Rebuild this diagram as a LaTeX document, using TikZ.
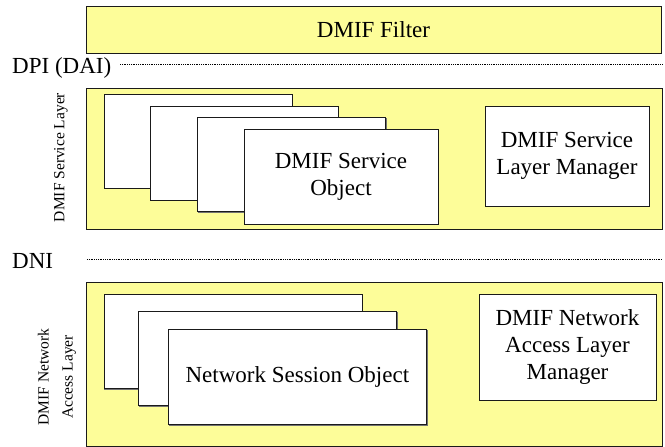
\documentclass[tikz,border=0pt]{standalone}
\usepackage{fontspec}
\setmainfont{Liberation Serif}
\definecolor{layerfill}{HTML}{FDFD99}
\definecolor{edge}{HTML}{1A1A1A}
\tikzset{
  bigtext/.style={font=\fontsize{23}{26.6}\selectfont},
  smalltext/.style={font=\fontsize{15.5}{24}\selectfont},
  framebox/.style={draw=edge, line width=0.9pt, inner sep=0pt, rectangle,
    preaction={draw=black!55, line width=0.9pt,
      transform canvas={shift={(0.9pt,-0.9pt)}}}},
  layerbox/.style={framebox, fill=layerfill},
  objbox/.style={framebox, fill=white, align=center, bigtext},
  sepline/.style={draw=black, line width=0.6pt, dash pattern=on 0.9pt off 0.9pt},
}
\begin{document}
\begin{tikzpicture}[x=1pt, y=-1pt]
  \useasboundingbox (0,0) rectangle (665,447);

  % top filter
  \node[layerbox, bigtext, minimum width=575pt, minimum height=47pt]
    (filter) at (373.5,29.5) {DMIF Filter};

  % DPI separator
  \node[bigtext, anchor=base west, inner sep=0pt] (dpi) at (12,73.3) {DPI (DAI)};
  \coordinate (dpiStart) at (120,64.5);
  \coordinate (dpiEnd) at (662,64.5);
  \draw[sepline] (dpiStart) -- (dpiEnd);

  % service layer
  \node[layerbox, minimum width=576pt, minimum height=141pt]
    (svclayer) at (374,158.5) {};
  \node[smalltext, rotate=90, inner sep=0pt] (svclabel) at (61,157.5) {DMIF Service Layer};
  \node[objbox, minimum width=188pt, minimum height=94pt] (s1) at (198,141) {};
  \node[objbox, minimum width=188pt, minimum height=94pt] (s2) at (244,153) {};
  \node[objbox, minimum width=187.5pt, minimum height=94pt] (s3) at (291.3,164.6) {};
  \node[objbox, minimum width=194pt, minimum height=94.5pt] (s4) at (341,176.75)
    {DMIF Service\\Object};
  \node[objbox, minimum width=164pt, minimum height=100pt] (svcmgr) at (567,156)
    {DMIF Service\\Layer Manager};

  % DNI separator
  \node[bigtext, anchor=base west, inner sep=0pt] (dni) at (12,268) {DNI};
  \coordinate (dniStart) at (87,259.5);
  \coordinate (dniEnd) at (662,259.5);
  \draw[sepline] (dniStart) -- (dniEnd);

  % network access layer
  \node[layerbox, minimum width=576pt, minimum height=164pt]
    (netlayer) at (374,364) {};
  \node[smalltext, rotate=90, inner sep=0pt, align=center] (netlabel) at (57,377)
    {DMIF Network\\Access Layer};
  \node[objbox, minimum width=258pt, minimum height=94.3pt] (n1) at (233,341.2) {};
  \node[objbox, minimum width=258pt, minimum height=94pt] (n2) at (267.6,358.6) {};
  \node[objbox, minimum width=258pt, minimum height=94.7pt] (n3) at (297.4,376.7)
    {Network Session Object};
  \node[objbox, minimum width=177pt, minimum height=106pt] (netmgr) at (567.5,347)
    {DMIF Network\\Access Layer\\Manager};
\end{tikzpicture}
\end{document}
